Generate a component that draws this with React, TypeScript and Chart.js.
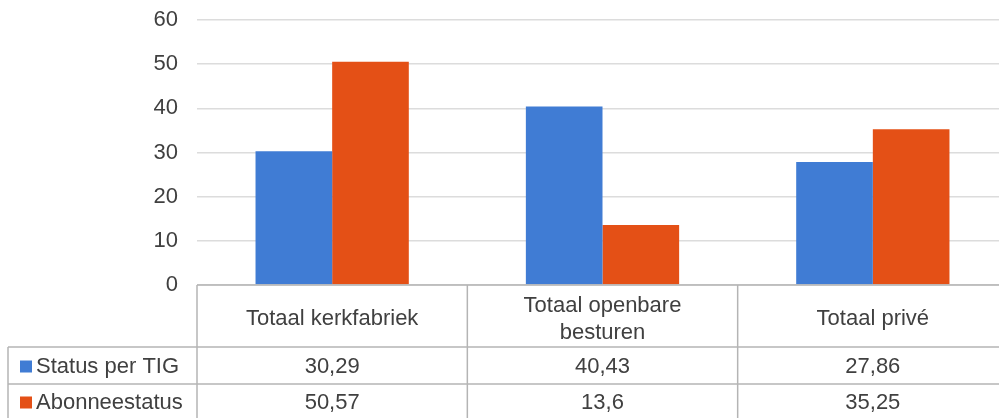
import React, { useEffect, useRef } from "react";
import { Chart, registerables } from "chart.js";

Chart.register(...registerables);

const categories: string[][] = [["Totaal kerkfabriek"], ["Totaal openbare", "besturen"], ["Totaal privé"]];
const seriesNames = ["Status per TIG", "Abonneestatus"];
const statusPerTIG = [30.29, 40.43, 27.86];
const abonneestatus = [50.57, 13.6, 35.25];
const yMin = 0;
const yMax = 60;
const yStep = 10;

const BLUE = "#407CD4";
const ORANGE = "#E45016";
const FONT = "'Liberation Sans', Arial, sans-serif";
const TEXT = "#404040";
const LINE = "#b4b4b4";

const fmt = (v: number) => String(v).replace(".", ",");

const tablePlugin = {
  id: "dataTable",
  afterDatasetsDraw(chart: any) {
    const { ctx, chartArea, scales } = chart;
    const x = scales.x;
    const n = categories.length;
    const colW = (x.right - x.left) / n;
    const top = chartArea.bottom;
    const headerBottom = top + 62;
    const row1Bottom = headerBottom + 37;
    const bottom = chart.height + 2;
    const legendLeft = 8;
    const left = chartArea.left;
    const right = chartArea.right;

    ctx.save();
    ctx.strokeStyle = LINE;
    ctx.lineWidth = 1.5;
    const line = (x1: number, y1: number, x2: number, y2: number) => {
      ctx.beginPath();
      ctx.moveTo(x1, y1);
      ctx.lineTo(x2, y2);
      ctx.stroke();
    };
    line(left, top, right, top);
    line(legendLeft, headerBottom, right, headerBottom);
    line(legendLeft, row1Bottom, right, row1Bottom);
    line(legendLeft, headerBottom, legendLeft, bottom);
    for (let i = 0; i <= n; i++) {
      const bx = x.left + i * colW;
      line(bx, top, bx, bottom);
    }

    ctx.fillStyle = TEXT;
    ctx.font = `22px ${FONT}`;
    ctx.textAlign = "center";
    ctx.textBaseline = "middle";
    const headerMid = (top + headerBottom) / 2 + 3;
    categories.forEach((lines, i) => {
      const cx = x.getPixelForValue(i);
      const lh = 27;
      const start = headerMid - ((lines.length - 1) * lh) / 2;
      lines.forEach((t, j) => ctx.fillText(t, cx, start + j * lh));
    });
    const rows = [statusPerTIG, abonneestatus];
    const rowMids = [(headerBottom + row1Bottom) / 2 + 1, row1Bottom + 18.5];
    rows.forEach((vals, r) => {
      vals.forEach((v, i) => {
        ctx.fillText(fmt(v), x.getPixelForValue(i), rowMids[r]);
      });
    });
    const colors = [BLUE, ORANGE];
    ctx.textAlign = "left";
    seriesNames.forEach((name, r) => {
      ctx.fillStyle = colors[r];
      ctx.fillRect(20, rowMids[r] - 6, 12, 12);
      ctx.fillStyle = TEXT;
      ctx.fillText(name, 36, rowMids[r]);
    });
    ctx.restore();
  },
};

export default function App() {
  const ref = useRef<HTMLCanvasElement | null>(null);
  useEffect(() => {
    if (!ref.current) return;
    const chart = new Chart(ref.current, {
      type: "bar",
      data: {
        labels: categories.map((c) => c.join(" ")),
        datasets: [
          { label: seriesNames[0], data: statusPerTIG, backgroundColor: BLUE, borderWidth: 0 },
          { label: seriesNames[1], data: abonneestatus, backgroundColor: ORANGE, borderWidth: 0 },
        ],
      },
      options: {
        responsive: false,
        animation: false,
        layout: { padding: { top: 20, bottom: 133, right: 2, left: 0 } },
        plugins: { legend: { display: false }, tooltip: { enabled: false }, title: { display: false } },
        datasets: { bar: { categoryPercentage: 0.567, barPercentage: 1 } },
        scales: {
          x: { display: false },
          y: {
            min: yMin,
            max: yMax,
            ticks: { stepSize: yStep, padding: 19, color: TEXT, font: { family: FONT, size: 22 } },
            grid: { color: "#dcdcdc", lineWidth: 1.5, drawTicks: false },
            border: { display: false },
            afterFit: (s: any) => {
              s.width = 197;
              s.paddingTop = 0;
              s.paddingBottom = 0;
            },
          },
        },
      },
      plugins: [tablePlugin],
    });
    return () => chart.destroy();
  }, []);
  return (
    <div style={{ position: "absolute", left: 0, top: 0, width: 999, height: 418, overflow: "hidden", background: "#fff" }}>
      <canvas ref={ref} width={1010} height={418} style={{ display: "block" }} />
    </div>
  );
}
